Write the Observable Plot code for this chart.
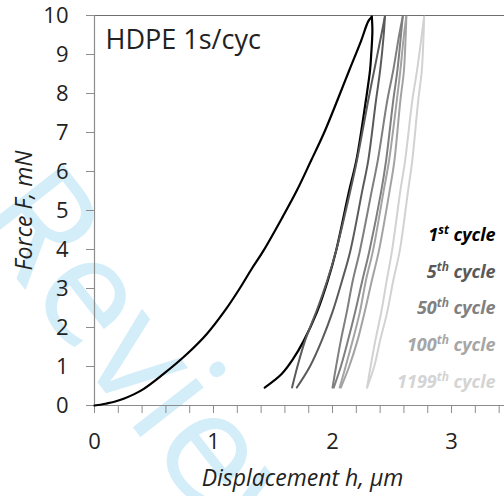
<!DOCTYPE html>
<html>
<head>
<meta charset="utf-8">
<script src="https://cdn.jsdelivr.net/npm/d3@7"></script>
<script src="https://cdn.jsdelivr.net/npm/@observablehq/plot@0.6"></script>
<style>
  html, body { margin: 0; padding: 0; background: #fff; }
  #chart { width: 504px; height: 496px; }
</style>
</head>
<body>
<div id="chart"></div>
<script>
// ---- data: [displacement h (µm), force F (mN)] ----
const cycleNames = ["1st", "5th", "50th", "100th", "1199th"];
const legendNumbers = ["1", "5", "50", "100", "1199"];
const legendSuffixes = ["st", "th", "th", "th", "th"];
const cycleColors = ["#000000", "#5a5a5a", "#7f7f7f", "#a3a3a3", "#d2d2d2"];
const legendColors = ["#000000", "#595959", "#808080", "#a6a6a6", "#d4d4d4"];

const cycle1Loading = [[0,0],[0.05,0.02],[0.10,0.05],[0.16,0.09],[0.25,0.18],[0.39,0.38],[0.58,0.81],[0.77,1.30],[0.94,1.82],[1.10,2.45],[1.22,3.0],[1.32,3.5],[1.42,3.97],[1.58,4.83],[1.70,5.51],[1.82,6.28],[1.93,7.0],[2.04,7.82],[2.14,8.59],[2.24,9.35],[2.30,9.85],[2.33,9.97]];
const cycle1Unloading = [[2.33,9.97],[2.335,9.6],[2.325,9.0],[2.315,8.59],[2.28,7.82],[2.20,6.28],[2.14,5.51],[2.03,3.97],[1.96,3.2],[1.87,2.4],[1.76,1.67],[1.67,1.2],[1.57,0.8],[1.43,0.46]];
const cycle5Loading = [[1.66,0.46],[1.705,1.0],[1.77,1.67],[1.875,2.5],[1.955,3.2],[2.03,3.97],[2.15,5.51],[2.205,6.28],[2.30,7.82],[2.35,8.59],[2.41,9.5],[2.44,9.97]];
const cycle5Unloading = [[2.44,9.97],[2.43,9.5],[2.40,8.59],[2.365,7.82],[2.30,6.28],[2.25,5.51],[2.15,3.97],[2.08,3.2],[2.00,2.4],[1.91,1.67],[1.81,1.0],[1.70,0.46]];
const cycle50Loading = [[2.00,0.46],[2.03,1.0],[2.07,1.67],[2.12,2.4],[2.17,3.2],[2.23,3.97],[2.33,5.51],[2.38,6.28],[2.46,7.82],[2.51,8.59],[2.56,9.5],[2.59,9.97]];
const cycle50Unloading = [[2.59,9.97],[2.575,9.5],[2.545,8.59],[2.51,7.82],[2.45,6.28],[2.41,5.51],[2.31,3.97],[2.25,3.2],[2.19,2.4],[2.13,1.67],[2.07,1.0],[2.01,0.46]];
const cycle100Loading = [[2.06,0.46],[2.11,1.0],[2.17,1.67],[2.23,2.4],[2.28,3.2],[2.34,3.97],[2.43,5.51],[2.475,6.28],[2.54,7.82],[2.57,8.59],[2.60,9.5],[2.62,9.97]];
const cycle100Unloading = [[2.62,9.97],[2.615,9.5],[2.60,8.59],[2.57,7.82],[2.52,6.28],[2.48,5.51],[2.39,3.97],[2.33,3.2],[2.27,2.4],[2.21,1.67],[2.14,1.0],[2.07,0.46]];
const cycle1199Loading = [[2.29,0.46],[2.32,1.0],[2.36,1.67],[2.41,2.4],[2.455,3.2],[2.50,3.97],[2.57,5.51],[2.61,6.28],[2.67,7.82],[2.71,8.59],[2.75,9.5],[2.77,9.97]];
const cycle1199Unloading = [[2.77,9.97],[2.765,9.5],[2.75,8.59],[2.72,7.82],[2.67,6.28],[2.635,5.51],[2.565,3.97],[2.51,3.2],[2.46,2.4],[2.40,1.67],[2.35,1.0],[2.29,0.46]];

const xTicksMinor = [0,0.2,0.4,0.6,0.8,1,1.2,1.4,1.6,1.8,2,2.2,2.4,2.6,2.8,3,3.2,3.4];
const xTickLabels = [0,1,2,3];
const yTicks = [0,1,2,3,4,5,6,7,8,9,10];

const titleText = "HDPE 1s/cyc";
const xLabel = "Displacement h, μm";
const yLabel = "Force F, mN";
const watermark = "Review";

// ---- chart ----
const axisGray = "#8c8c8c";
const textColor = "#222222";
const font = "'Open Sans', 'DejaVu Sans', sans-serif";

const seriesList = [
  [cycle1Loading, cycle1Unloading],
  [cycle5Loading, cycle5Unloading],
  [cycle50Loading, cycle50Unloading],
  [cycle100Loading, cycle100Unloading],
  [cycle1199Loading, cycle1199Unloading]
];
const lineMarks = [];
seriesList.forEach((pair, i) => {
  pair.forEach(s => {
    lineMarks.push(Plot.line(s, {
      x: d => d[0], y: d => d[1],
      stroke: cycleColors[i], strokeWidth: i === 0 ? 2.2 : 2,
      curve: "catmull-rom"
    }));
  });
});

const plot = Plot.plot({
  width: 504,
  height: 496,
  marginLeft: 94,
  marginRight: 0,
  marginTop: 15,
  marginBottom: 91,
  x: {domain: [0, 3.445]},
  y: {domain: [0, 10]},
  style: {fontFamily: font, background: "transparent", color: textColor},
  marks: [
    Plot.ruleY([10], {stroke: "#6e6e6e", strokeWidth: 1.2}),
    Plot.ruleY([0], {stroke: axisGray, strokeWidth: 1.2}),
    Plot.ruleX([0], {stroke: axisGray, strokeWidth: 1.2}),
    Plot.axisX(xTicksMinor, {tickSize: 8, tickFormat: () => "", stroke: axisGray, label: null}),
    Plot.axisX(xTickLabels, {tickSize: 0, tickPadding: 28, fontSize: 22, fill: textColor, tickFormat: d3.format("d"), label: null}),
    Plot.axisY(yTicks, {tickSize: 8, tickPadding: 18, fontSize: 22, stroke: axisGray, fill: textColor, tickFormat: d3.format("d"), label: null}),
    ...lineMarks,
    Plot.text([yLabel], {frameAnchor: "left", dx: -70, rotate: -90, textAnchor: "middle", lineAnchor: "middle", fontSize: 23, fontStyle: "italic", fill: textColor}),
    Plot.text([xLabel], {frameAnchor: "bottom", dx: 3, dy: 73, textAnchor: "middle", lineAnchor: "middle", fontSize: 23, fontStyle: "italic", fill: textColor}),
    Plot.text([titleText], {frameAnchor: "top-left", dx: 11, dy: 14, fontSize: 27, textAnchor: "start", lineAnchor: "top", fill: textColor})
  ]
});

document.getElementById("chart").appendChild(plot);

// watermark behind everything
const svg = d3.select(plot);
svg.insert("text", ":first-child")
  .attr("transform", "translate(-30,219) rotate(52)")
  .attr("text-anchor", "start")
  .attr("font-family", font)
  .attr("font-size", 150)
  .attr("fill", "#d3edf9")
  .text(watermark);

// legend (right-aligned, bold italic with superscripts)
const xs = plot.scale("x"), ys = plot.scale("y");
const legendRight = xs.apply(3.375);
const legendTop = ys.apply(4.2);
const lg = svg.append("g")
  .attr("font-family", font)
  .attr("font-weight", "bold")
  .attr("font-style", "italic")
  .attr("font-size", 18)
  .attr("text-anchor", "end");
cycleNames.forEach((name, i) => {
  const t = lg.append("text")
    .attr("x", legendRight)
    .attr("y", legendTop + i * 36.6)
    .attr("fill", legendColors[i]);
  t.append("tspan").text(legendNumbers[i]);
  t.append("tspan").attr("font-size", 12).attr("dy", -7).text(legendSuffixes[i]);
  t.append("tspan").attr("dy", 7).text(" cycle");
});
</script>
</body>
</html>
